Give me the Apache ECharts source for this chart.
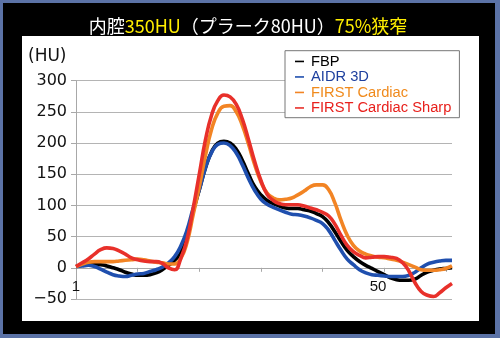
<!DOCTYPE html>
<html><head><meta charset="utf-8">
<script src="https://cdn.jsdelivr.net/npm/echarts@6/dist/echarts.min.js"></script>
<style>
html,body{margin:0;padding:0;}
body{width:500px;height:338px;background:#5b72a6;position:relative;overflow:hidden;}
#blk{position:absolute;left:3px;top:3px;width:492px;height:331px;background:#000;}
#wht{position:absolute;left:22px;top:36px;width:457px;height:285px;background:#fff;}
#c{position:absolute;left:0;top:0;width:500px;height:338px;}
</style></head>
<body><div id="blk"></div><div id="wht"></div><div id="c"></div>
<script>
// categories 1..62
const categories = [];
for (let i = 1; i <= 62; i++) categories.push(String(i));
const seriesNames = ["FBP", "AIDR 3D", "FIRST Cardiac", "FIRST Cardiac Sharp"];
const fbp = [2,4,5,5,5,3,0,-3,-7,-10,-12,-12,-11,-8,-3,4,12,24,50,90,125,160,186,200,203,200,190,172,150,130,117,108,103,99,96,95,95,93,91,87,82,72,58,42,28,18,10,4,-1,-6,-11,-16,-19,-20,-20,-18,-12,-7,-4,-2,-1,0];
const aidr = [2,3,4,2,-2,-7,-11,-13,-14,-12,-10,-9,-6,-3,1,8,18,35,60,95,125,160,185,198,200,196,184,165,143,124,110,102,97,93,89,86,85,83,80,76,71,60,44,28,14,5,-3,-8,-11,-12,-13,-14,-14,-14,-12,-7,0,6,9,11,12,12];
const firstC = [2,6,9,10,10,10,10,11,12,13,14,13,11,9,8,6,6,15,40,85,130,180,222,248,259,260,250,228,198,165,138,120,112,109,110,112,117,123,130,133,133,125,104,76,52,36,27,22,19,17,16,14,12,9,5,1,-3,-4,-4,-3,-1,3];
const firstS = [2,8,14,22,29,32,31,27,22,16,13,11,10,10,7,0,-3,15,45,95,150,205,245,268,277,274,262,238,205,170,140,118,108,103,101,101,101,99,96,93,89,83,70,52,36,26,20,16,17,18,18,17,15,8,-5,-24,-38,-44,-46,-40,-32,-25];
const yMin = -50, yMax = 300, yStep = 50;
const xLabelIdx = [0, 49];
const colors = ["#000000", "#1f4fae", "#f28424", "#e8302a"];
const legendColors = ["#000000", "#1d3f9e", "#f08a1c", "#e8201c"];

const chart = echarts.init(document.getElementById('c'), null, {renderer:'canvas'});
const data = [fbp, aidr, firstC, firstS];
chart.setOption({
  animation: false,
  title: {
    text: '{w|内腔}{y|350HU}{w|（プラーク80HU）}{y|75%狭窄}',
    left: 243, top: 12, textAlign: 'center',
    textStyle: {
      fontWeight: 'normal',
      rich: {
        w: {color:'#ffffff', fontSize:18, fontWeight:'normal', fontFamily:'"Noto Sans CJK JP", sans-serif'},
        y: {color:'#ffee00', fontSize:18, fontWeight:'normal', fontFamily:'"Noto Sans CJK JP", sans-serif'}
      }
    }
  },
  graphic: [{
    type:'text', left: 28, top: 48,
    style:{text:'(HU)', fill:'#111', font:'17px "DejaVu Sans"'}
  }],
  legend: {
    orient:'vertical', left: 285, top: 50.7,
    backgroundColor:'#fff', borderColor:'#777', borderWidth:1,
    padding:[3,8,2,10], itemGap:0,
    icon:'rect', itemWidth:9, itemHeight:1.6,
    textStyle:{fontSize:14.7, fontFamily:'"Liberation Sans", Arial, sans-serif', lineHeight:15.5, padding:[0,0,0,2]},
    data: seriesNames.map((n,i)=>({name:n, textStyle:{color:legendColors[i]}}))
  },
  grid: {left:76, right:48, top:80.7, bottom:39},
  xAxis: {
    type:'category', data: categories, boundaryGap:false,
    axisLine:{show:true, onZero:true, lineStyle:{color:'#a8a8a8', width:1}},
    axisTick:{show:true, interval:(i)=>i%10===0, length:4, lineStyle:{color:'#a8a8a8'}},
    axisLabel:{show:true, interval:(i)=>xLabelIdx.indexOf(i)>=0, margin:-20, color:'#111', fontSize:15, fontFamily:'"Liberation Sans", Arial, sans-serif'},
    splitLine:{show:false}
  },
  yAxis: {
    type:'value', min:yMin, max:yMax, interval:yStep,
    axisLine:{show:true, lineStyle:{color:'#a8a8a8', width:1}},
    axisTick:{show:true, length:5, lineStyle:{color:'#a8a8a8'}},
    axisLabel:{margin:9, color:'#111', fontSize:16, fontFamily:'"DejaVu Sans", sans-serif',
      formatter:(v)=>String(v).replace('-', '\u2212')},
    splitLine:{lineStyle:{color:'#b4b4b4', width:1}}
  },
  series: seriesNames.map((n,i)=>({
    name:n, type:'line', data:data[i], smooth:0.5, showSymbol:false, symbol:'none',
    lineStyle:{color:colors[i], width:3.6}, itemStyle:{color:colors[i]}, z:2+i
  }))
});
</script></body></html>
